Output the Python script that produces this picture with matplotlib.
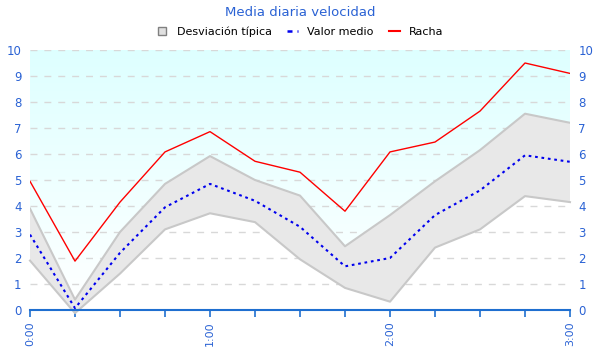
import matplotlib
matplotlib.use("Agg")
import matplotlib.pyplot as plt
import numpy as np
from matplotlib.lines import Line2D

times_min = [0, 15, 30, 45, 60, 75, 90, 105, 120, 135, 150, 165, 180]
tick_labels = ["0:00", "", "", "", "1:00", "", "", "", "2:00", "", "", "", "3:00"]
racha = [4.95, 1.88, 4.15, 6.08, 6.86, 5.72, 5.3, 3.8, 6.08, 6.46, 7.65, 9.5, 9.1]
media = [2.9, 0.07, 2.2, 3.95, 4.85, 4.2, 3.2, 1.68, 2.0, 3.65, 4.6, 5.95, 5.7]
upper = [3.9, 0.4, 3.0, 4.85, 5.92, 5.0, 4.4, 2.45, 3.65, 4.95, 6.15, 7.55, 7.2]
lower = [1.9, -0.12, 1.4, 3.1, 3.72, 3.38, 1.95, 0.85, 0.32, 2.4, 3.1, 4.38, 4.15]

blue_txt = "#2a62d4"
axis_blue = "#1f6fd0"

fig = plt.figure(figsize=(6, 3.6), dpi=100)
ax = fig.add_axes([0.05, 0.1389, 0.9, 0.7222])
ax.set_xlim(0, 180)
ax.set_ylim(0, 10)

# gradient background (cyan at top fading to white)
grad = np.linspace(0, 1, 256).reshape(-1, 1)
top = np.array([0.87, 1.0, 1.0])
bot = np.array([1.0, 1.0, 1.0])
img = bot + (top - bot) * grad
img = np.repeat(img[:, None, :], 2, axis=1)
ax.imshow(img, extent=[0, 180, 0, 10], origin="lower", aspect="auto", zorder=0)
ax.fill_between(times_min, lower, -1, color="white", zorder=0.5, lw=0)

for v in range(1, 11):
    ax.axhline(v, color="#d8d8d8", lw=1, ls=(0, (5, 5)), zorder=1)

ax.fill_between(times_min, lower, upper, facecolor="#e8e8e8", edgecolor="none", zorder=2, clip_on=False)
ax.plot(times_min, upper, color="#c8c8c8", lw=1.5, zorder=2.5)
ax.plot(times_min, lower, color="#c8c8c8", lw=1.5, zorder=2.5, clip_on=False)

ax.plot(times_min, racha, color="#ff0000", lw=1, zorder=4)
ax.plot(times_min, media, color="#0000ee", lw=1.5, ls=(0, (1.3, 1.8)), zorder=4)

ax.set_xticks(times_min)
ax.set_xticklabels(tick_labels, rotation=90, color=blue_txt, fontsize=8)
ax.set_yticks(range(0, 11))
ax.tick_params(axis="x", colors=axis_blue, length=5, width=1.2, labelcolor=blue_txt, pad=3)
ax.tick_params(axis="y", length=0, labelsize=8.5, labelcolor=blue_txt, pad=6,
               left=True, right=True, labelleft=True, labelright=True)
for s in ["top", "left", "right"]:
    ax.spines[s].set_visible(False)
ax.spines["bottom"].set_color(axis_blue)
ax.spines["bottom"].set_linewidth(1.5)
ax.spines["bottom"].set_zorder(5)

fig.text(0.5, 0.965, "Media diaria velocidad", ha="center", va="center", color=blue_txt, fontsize=9.5)

handles = [
    Line2D([], [], marker="s", ls="none", markerfacecolor="#e0e0e0", markeredgecolor="#808080", markersize=6),
    Line2D([], [], color="#0000ee", lw=1.8, ls=(0, (2, 2))),
    Line2D([], [], color="#ff0000", lw=1.5),
]
fig.legend(handles, ["Desviación típica", "Valor medio", "Racha"], loc="center",
           bbox_to_anchor=(0.5, 0.913), ncol=3, frameon=False, fontsize=8,
           handlelength=1.0, columnspacing=1.4, handletextpad=0.8)

fig.savefig("out.png", dpi=100)
